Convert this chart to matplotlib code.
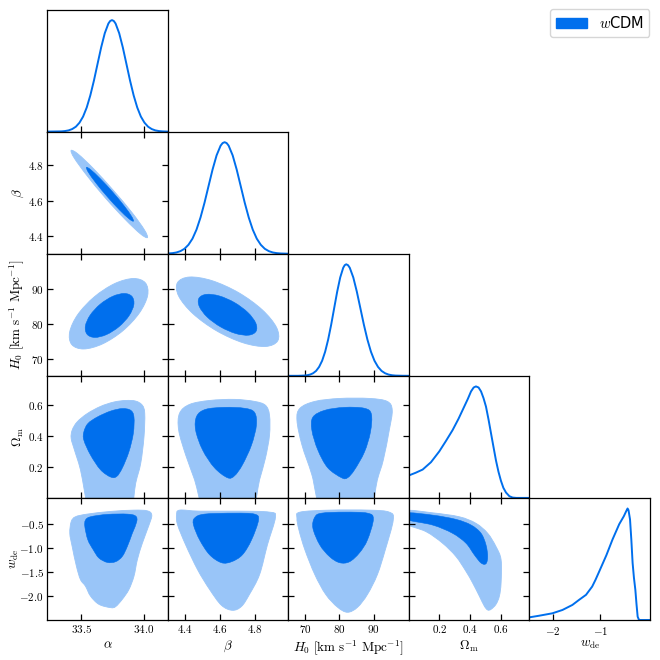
import numpy as np
import matplotlib
matplotlib.use("Agg")
import matplotlib.pyplot as plt
from matplotlib.path import Path
from matplotlib.patches import PathPatch, Patch

plt.rcParams['mathtext.fontset'] = 'cm'
plt.rcParams['font.family'] = ['DejaVu Sans']

# ---------------- data ----------------
param_labels = [r'$\alpha$', r'$\beta$', r'$H_0\ [\mathrm{km\ s^{-1}\ Mpc^{-1}}]$',
                r'$\Omega_{\rm m}$', r'$w_{\rm de}$']
param_limits = [(33.23, 34.19), (4.30, 4.99), (65.2, 100.2), (0.003, 0.785), (-2.50, 0.055)]
param_ticks = [[33.5, 34.0], [4.4, 4.6, 4.8], [70, 80, 90], [0.2, 0.4, 0.6], [-0.5, -1.0, -1.5, -2.0]]
param_ticklabels = [['33.5', '34.0'], ['4.4', '4.6', '4.8'], ['70', '80', '90'],
                    ['0.2', '0.4', '0.6'], ['-0.5', '-1.0', '-1.5', '-2.0']]
w_xticks = [-2, -1]
w_xticklabels = ['-2', '-1']
legend_label = r'$w$CDM'

# 1D marginals (normalised to peak 1)
alpha_grid = [33.23, 33.342, 33.3706, 33.3995, 33.4284, 33.4575, 33.4863, 33.515, 33.5438, 33.5725,
              33.6013, 33.63, 33.6588, 33.6875, 33.7163, 33.7306, 33.745, 33.7594, 33.7738, 33.8025,
              33.8313, 33.86, 33.8888, 33.9175, 33.9463, 33.975, 34.0038, 34.0325, 34.0613, 34.09,
              34.1188, 34.1475, 34.19]
alpha_pdf = [0.0, 0.002, 0.005, 0.011, 0.023, 0.044, 0.080, 0.135, 0.216, 0.325,
             0.458, 0.607, 0.755, 0.882, 0.969, 0.992, 1.0, 0.992, 0.969, 0.882,
             0.755, 0.607, 0.458, 0.325, 0.216, 0.135, 0.080, 0.044, 0.023, 0.011,
             0.005, 0.002, 0.0]
beta_grid = [4.30, 4.326, 4.349, 4.372, 4.395, 4.418, 4.441, 4.464, 4.487, 4.510, 4.533, 4.556,
             4.579, 4.602, 4.6135, 4.625, 4.6365, 4.648, 4.671, 4.694, 4.717, 4.740, 4.763,
             4.786, 4.809, 4.832, 4.855, 4.878, 4.901, 4.924, 4.947, 4.99]
beta_pdf = [0.002, 0.005, 0.011, 0.023, 0.044, 0.080, 0.135, 0.216, 0.325, 0.458, 0.607, 0.755,
            0.882, 0.969, 0.992, 1.0, 0.992, 0.969, 0.882, 0.755, 0.607, 0.458, 0.325,
            0.216, 0.135, 0.080, 0.044, 0.023, 0.011, 0.005, 0.002, 0.0]
h0_grid = [65.2, 68.0, 69.75, 70.625, 71.5, 72.375, 73.25, 74.125, 75.0, 75.875, 76.75, 77.625,
           78.5, 79.375, 80.25, 81.125, 81.5625, 82.0, 82.5125, 83.025, 84.05, 85.075, 86.1,
           87.125, 88.15, 89.175, 90.2, 91.225, 92.25, 93.275, 94.3, 95.325, 96.35, 98.4, 100.2]
h0_pdf = [0.0, 0.0, 0.002, 0.005, 0.011, 0.023, 0.044, 0.080, 0.135, 0.216, 0.325, 0.458,
          0.607, 0.755, 0.882, 0.969, 0.992, 1.0, 0.992, 0.969, 0.882, 0.755, 0.607,
          0.458, 0.325, 0.216, 0.135, 0.080, 0.044, 0.023, 0.011, 0.005, 0.002, 0.0003, 0.0]
om_grid = [0.0, 0.046, 0.092, 0.146, 0.2, 0.243, 0.286, 0.325, 0.362, 0.386, 0.406, 0.423, 0.438,
           0.455, 0.471, 0.487, 0.503, 0.52, 0.536, 0.552, 0.568, 0.584, 0.600, 0.616, 0.633,
           0.655, 0.676, 0.70, 0.785]
om_pdf = [0.20, 0.225, 0.254, 0.32, 0.417, 0.51, 0.607, 0.71, 0.819, 0.89, 0.955, 0.99, 1.0,
          0.99, 0.955, 0.895, 0.819, 0.70, 0.577, 0.455, 0.335, 0.235, 0.154, 0.09, 0.048,
          0.015, 0.003, 0.0, 0.0]
w_grid = [-2.50, -2.3, -2.015, -1.8, -1.59, -1.45, -1.30, -1.17, -1.1, -1.02, -0.87, -0.738, -0.596,
          -0.50, -0.45, -0.42, -0.40, -0.368, -0.34, -0.313, -0.285, -0.255, -0.23, -0.206, -0.18,
          -0.16, 0.055]
w_pdf = [0.024, 0.038, 0.06, 0.09, 0.135, 0.18, 0.226, 0.30, 0.36, 0.436, 0.58, 0.723, 0.86,
         0.93, 0.975, 1.0, 0.985, 0.903, 0.72, 0.512, 0.38, 0.271, 0.14, 0.03, 0.003, 0.0, 0.0]

# 2D contours (68% inner, 95% outer), boundaries in data units
ab_outer_x = [34.027, 34.003, 33.904, 33.756, 33.600, 33.477, 33.42, 33.444, 33.544, 33.691, 33.847, 33.970]
ab_outer_y = [4.391, 4.435, 4.533, 4.658, 4.779, 4.862, 4.884, 4.841, 4.743, 4.616, 4.496, 4.413]
ab_inner_x = [33.916, 33.901, 33.841, 33.750, 33.653, 33.577, 33.542, 33.556, 33.617, 33.708, 33.804, 33.881]
ab_inner_y = [4.484, 4.511, 4.571, 4.649, 4.723, 4.774, 4.788, 4.761, 4.700, 4.622, 4.548, 4.497]

ah_outer_x = [34.011, 34.029, 33.963, 33.832, 33.670, 33.521, 33.425, 33.408, 33.473, 33.605, 33.766, 33.915]
ah_outer_y = [91.84, 88.22, 83.20, 78.12, 74.35, 72.89, 74.14, 77.76, 82.78, 87.85, 91.63, 93.09]
ah_inner_x = [33.905, 33.919, 33.881, 33.801, 33.701, 33.608, 33.547, 33.533, 33.571, 33.651, 33.751, 33.844]
ah_inner_y = [87.91, 85.58, 82.43, 79.29, 77.01, 76.20, 77.09, 79.42, 82.57, 85.71, 87.99, 88.80]

bh_outer_x = [4.929, 4.859, 4.731, 4.579, 4.444, 4.362, 4.355, 4.425, 4.553, 4.705, 4.840, 4.922]
bh_outer_y = [75.23, 73.61, 74.66, 78.09, 82.99, 88.04, 91.90, 93.52, 92.47, 89.04, 84.14, 79.09]
bh_inner_x = [4.805, 4.763, 4.689, 4.602, 4.525, 4.480, 4.478, 4.520, 4.595, 4.682, 4.758, 4.803]
bh_inner_y = [77.96, 76.85, 77.31, 79.22, 82.05, 85.07, 87.44, 88.55, 88.09, 86.18, 83.35, 80.34]

ao_outer_x = [33.73, 33.57, 33.494, 33.446, 33.420, 33.428, 33.468, 33.548, 33.654, 33.760, 33.854,
              33.934, 33.987, 34.006, 34.000, 33.974, 33.934, 33.89]
ao_outer_y = [-0.12, -0.08, 0.183, 0.310, 0.384, 0.437, 0.490, 0.543, 0.589, 0.617, 0.627,
              0.623, 0.596, 0.543, 0.394, 0.225, 0.098, -0.08]
ao_inner_x = [33.734, 33.654, 33.574, 33.521, 33.521, 33.553, 33.628, 33.734, 33.827, 33.894, 33.920,
              33.915, 33.880, 33.827, 33.782]
ao_inner_y = [0.137, 0.183, 0.278, 0.373, 0.426, 0.479, 0.521, 0.559, 0.575, 0.564, 0.521,
              0.416, 0.299, 0.194, 0.140]

aw_outer_x = [33.734, 33.641, 33.574, 33.534, 33.494, 33.462, 33.428, 33.409, 33.420, 33.454, 33.548,
              33.734, 33.920, 34.027, 34.062, 34.040, 33.987, 33.947, 33.920, 33.880, 33.827, 33.774]
aw_outer_y = [-2.241, -2.172, -2.000, -1.793, -1.654, -1.378, -0.963, -0.685, -0.444, -0.340, -0.284,
              -0.228, -0.201, -0.216, -0.305, -0.512, -0.892, -1.239, -1.585, -1.861, -2.068, -2.220]
aw_inner_x = [33.708, 33.641, 33.596, 33.553, 33.529, 33.534, 33.574, 33.708, 33.867, 33.934, 33.942,
              33.907, 33.867, 33.827, 33.774]
aw_inner_y = [-1.295, -1.203, -1.031, -0.824, -0.548, -0.409, -0.340, -0.290, -0.284, -0.326, -0.444,
              -0.685, -0.963, -1.170, -1.280]

bo_outer_x = [4.64, 4.51, 4.453, 4.402, 4.362, 4.367, 4.425, 4.539, 4.682, 4.796, 4.859, 4.882, 4.882,
              4.859, 4.825, 4.78]
bo_outer_y = [-0.12, -0.08, 0.119, 0.278, 0.437, 0.545, 0.602, 0.627, 0.634, 0.621, 0.596, 0.532, 0.405,
              0.259, 0.119, -0.08]
bo_inner_x = [4.642, 4.567, 4.499, 4.459, 4.465, 4.516, 4.625, 4.739, 4.796, 4.807, 4.779, 4.727, 4.682]
bo_inner_y = [0.132, 0.196, 0.310, 0.437, 0.526, 0.570, 0.583, 0.577, 0.551, 0.469, 0.342, 0.215, 0.145]

bw_outer_x = [4.350, 4.367, 4.482, 4.710, 4.882, 4.916, 4.870, 4.825, 4.767, 4.722, 4.670, 4.607,
              4.539, 4.470, 4.402, 4.356]
bw_outer_y = [-0.305, -0.201, -0.222, -0.222, -0.243, -0.347, -0.928, -1.550, -1.965, -2.214, -2.297,
              -2.193, -1.861, -1.446, -0.928, -0.512]
bw_inner_x = [4.453, 4.510, 4.682, 4.796, 4.819, 4.779, 4.727, 4.665, 4.607, 4.539, 4.482, 4.447]
bw_inner_y = [-0.367, -0.284, -0.264, -0.284, -0.409, -0.824, -1.135, -1.280, -1.301, -1.135, -0.824, -0.512]

ho_outer_x = [81.5, 74.8, 72.02, 69.14, 67.69, 68.56, 72.88, 80.09, 88.73, 93.92, 95.36, 94.50, 92.77,
              91.04, 88.8]
ho_outer_y = [-0.12, -0.08, 0.151, 0.342, 0.500, 0.577, 0.621, 0.640, 0.640, 0.621, 0.564, 0.437, 0.246,
              0.119, -0.08]
ho_inner_x = [80.66, 76.63, 73.75, 72.02, 72.31, 75.76, 81.53, 87.29, 89.31, 89.02, 87.29, 84.41, 82.39]
ho_inner_y = [0.132, 0.196, 0.310, 0.437, 0.520, 0.564, 0.583, 0.577, 0.539, 0.424, 0.297, 0.183, 0.132]

hw_outer_x = [67.69, 68.56, 77.20, 88.73, 94.50, 95.65, 93.34, 91.04, 88.16, 85.27, 82.39, 79.51,
              76.05, 72.88, 70.00, 68.27]
hw_outer_y = [-0.367, -0.243, -0.201, -0.201, -0.243, -0.409, -1.032, -1.550, -1.965, -2.234, -2.338,
              -2.234, -1.965, -1.550, -1.032, -0.617]
hw_inner_x = [72.88, 74.90, 81.53, 88.16, 89.88, 88.16, 85.85, 82.97, 80.09, 77.20, 74.32, 72.31]
hw_inner_y = [-0.346, -0.264, -0.243, -0.264, -0.388, -0.824, -1.093, -1.280, -1.301, -1.176, -0.928, -0.575]

ow_outer_x = [-0.02, 0.156, 0.330, 0.438, 0.514, 0.568, 0.601, 0.601, 0.590, 0.568, 0.536, 0.514,
              0.492, 0.460, 0.416, 0.373, 0.308, 0.221, 0.114, -0.02]
ow_outer_y = [-0.216, -0.257, -0.340, -0.477, -0.685, -0.963, -1.239, -1.722, -2.000, -2.172, -2.276,
              -2.290, -2.207, -2.000, -1.722, -1.481, -1.170, -0.892, -0.651, -0.477]
ow_inner_x = [-0.02, 0.156, 0.308, 0.406, 0.471, 0.503, 0.514, 0.503, 0.471, 0.427, 0.373, 0.286, 0.156, -0.02]
ow_inner_y = [-0.257, -0.305, -0.394, -0.512, -0.685, -0.927, -1.170, -1.322, -1.307, -1.135, -0.892,
              -0.685, -0.512, -0.394]

# ---------------- styling ----------------
dark = '#006FED'
light = '#99C5F8'

marginals = [(alpha_grid, alpha_pdf), (beta_grid, beta_pdf), (h0_grid, h0_pdf),
             (om_grid, om_pdf), (w_grid, w_pdf)]
contours = {
    (1, 0): (ab_outer_x, ab_outer_y, ab_inner_x, ab_inner_y),
    (2, 0): (ah_outer_x, ah_outer_y, ah_inner_x, ah_inner_y),
    (2, 1): (bh_outer_x, bh_outer_y, bh_inner_x, bh_inner_y),
    (3, 0): (ao_outer_x, ao_outer_y, ao_inner_x, ao_inner_y),
    (3, 1): (bo_outer_x, bo_outer_y, bo_inner_x, bo_inner_y),
    (3, 2): (ho_outer_x, ho_outer_y, ho_inner_x, ho_inner_y),
    (4, 0): (aw_outer_x, aw_outer_y, aw_inner_x, aw_inner_y),
    (4, 1): (bw_outer_x, bw_outer_y, bw_inner_x, bw_inner_y),
    (4, 2): (hw_outer_x, hw_outer_y, hw_inner_x, hw_inner_y),
    (4, 3): (ow_outer_x, ow_outer_y, ow_inner_x, ow_inner_y),
}
ylabel_x = {1: -0.18, 2: -0.18, 3: -0.18, 4: -0.215}


def smooth_closed_path(xs, ys):
    p = np.column_stack([xs, ys]).astype(float)
    n = len(p)
    verts = [p[0]]
    codes = [Path.MOVETO]
    for i in range(n):
        p0, p1, p2, p3 = p[i - 1], p[i], p[(i + 1) % n], p[(i + 2) % n]
        c1 = p1 + (p2 - p0) / 6.0
        c2 = p2 - (p3 - p1) / 6.0
        verts += [c1, c2, p2]
        codes += [Path.CURVE4] * 3
    verts.append(p[0])
    codes.append(Path.CLOSEPOLY)
    return Path(verts, codes)


def mlabels(lst):
    return ['$' + s + '$' for s in lst]


fig, axes = plt.subplots(5, 5, figsize=(6.6, 6.6), dpi=100)
fig.subplots_adjust(left=0.0717, right=0.9848, top=0.9856, bottom=0.0606, wspace=0, hspace=0)

N = 5
tick_fs = 8
label_fs = 9.5
for i in range(N):
    for j in range(N):
        ax = axes[i, j]
        if j > i:
            ax.set_visible(False)
            continue
        for s in ax.spines.values():
            s.set_linewidth(0.9)
        if i == j:
            gx, gy = marginals[i]
            ax.plot(gx, gy, color=dark, lw=1.4)
            ax.set_xlim(*param_limits[i])
            ax.set_ylim(0, 1.095)
            ax.set_yticks([])
            ax.tick_params(axis='x', direction='in', length=4, width=0.9, top=False, bottom=True,
                           labelsize=tick_fs)
        else:
            ox, oy, ix, iy = contours[(i, j)]
            ax.add_patch(PathPatch(smooth_closed_path(ox, oy), facecolor=light, edgecolor=light,
                                   lw=0.6, zorder=1))
            ax.add_patch(PathPatch(smooth_closed_path(ix, iy), facecolor=dark, edgecolor=dark,
                                   lw=0.4, zorder=2))
            ax.set_xlim(*param_limits[j])
            ax.set_ylim(*param_limits[i])
            ax.set_yticks(param_ticks[i])
            ax.tick_params(axis='both', direction='in', length=4, width=0.9, top=True, right=True,
                           labelsize=tick_fs, pad=2.5)
            if j == 0:
                ax.set_yticklabels(mlabels(param_ticklabels[i]))
                ax.set_ylabel(param_labels[i], fontsize=label_fs)
                ax.yaxis.set_label_coords(ylabel_x[i], 0.5)
            else:
                ax.set_yticklabels([])
        if j == 4:
            ax.set_xticks(w_xticks)
            xt_lab = w_xticklabels
        else:
            ax.set_xticks(param_ticks[j])
            xt_lab = param_ticklabels[j]
        if i == N - 1:
            ax.set_xticklabels(mlabels(xt_lab))
            ax.set_xlabel(param_labels[j], fontsize=label_fs)
            ax.xaxis.set_label_coords(0.5, -0.15)
        else:
            ax.set_xticklabels([])

fig.legend(handles=[Patch(facecolor=dark, edgecolor=dark, label=legend_label)],
           loc='upper right', bbox_to_anchor=(0.984, 0.986), borderaxespad=0,
           fontsize=10.5, handlelength=2.1, frameon=True)

fig.savefig('out.png', dpi=100)
